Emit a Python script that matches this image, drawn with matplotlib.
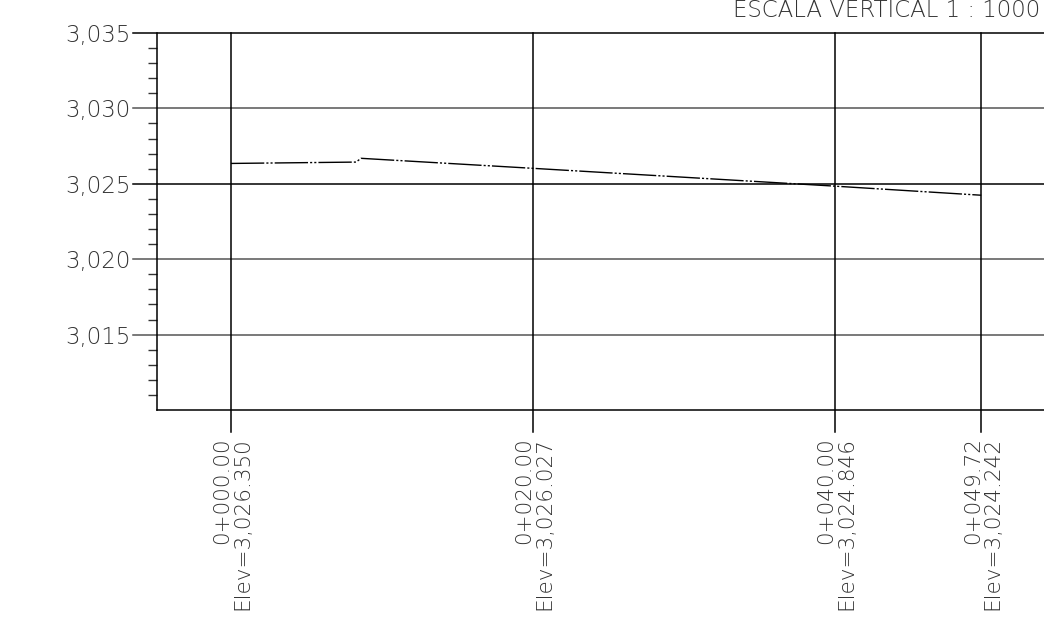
import matplotlib
matplotlib.use("Agg")
import matplotlib.pyplot as plt
from matplotlib.ticker import MultipleLocator, FuncFormatter

# profile data (station in m, elevation in m)
stations = [0.0, 8.29, 8.62, 20.0, 40.0, 49.72]
elevations = [3026.350, 3026.44, 3026.69, 3026.027, 3024.846, 3024.242]

# labelled stations along the bottom
label_stations = [0.0, 20.0, 40.0, 49.72]
label_names = ["0+000.00", "0+020.00", "0+040.00", "0+049.72"]
label_elevs = ["3,026.350", "3,026.027", "3,024.846", "3,024.242"]

y_major = [3015, 3020, 3025, 3030, 3035]
title = "ESCALA VERTICAL 1 : 1000"

txt = dict(color="#333333", fontweight="light")

W, H = 1044, 625
fig = plt.figure(figsize=(W / 100, H / 100), dpi=100)
ax = fig.add_axes([157 / W, (H - 410) / H, (W - 157) / W, 377 / H])

x_min, x_max = -4.90, 53.88
y_min, y_max = 3010, 3035
ax.set_xlim(x_min, x_max)
ax.set_ylim(y_min, y_max)

for side in ["top", "right"]:
    ax.spines[side].set_visible(False)
ax.spines["left"].set_linewidth(1.1)
ax.spines["bottom"].set_linewidth(1.1)

ax.set_xticks([])
ax.yaxis.set_major_locator(MultipleLocator(5))
ax.yaxis.set_minor_locator(MultipleLocator(1))
ax.yaxis.set_major_formatter(FuncFormatter(lambda v, p: f"{v:,.0f}" if v in y_major else ""))
ax.tick_params(axis="y", which="major", length=0, pad=19, labelsize=16.5, labelcolor="#333333")
ax.tick_params(axis="y", which="minor", length=6.5, width=1.0, direction="out", color="#333333")
for lab in ax.get_yticklabels():
    lab.set_fontweight("light")

# horizontal grid lines, sticking out past the axis on the left
grid_left = -6.5
for yv in y_major:
    c = "black" if yv in (3025, 3035) else "#555555"
    ax.plot([grid_left, x_max], [yv, yv], color=c, lw=1.1, clip_on=False, zorder=1)

# vertical station lines, extending below the frame
for s in label_stations:
    ax.plot([s, s], [3008.55, y_max], color="black", lw=1.1, clip_on=False, zorder=1)

# profile
ax.plot(stations, elevations, color="black", lw=1.0,
        linestyle=(0, (24, 1.5, 1.5, 1.5, 1.5, 1.5)), zorder=3)

# station labels
for s, name, ev in zip(label_stations, label_names, label_elevs):
    ax.text(s + 0.1, 3008.2, f"{name}\nElev={ev}", rotation=90, ha="center", va="top",
            multialignment="right", fontsize=15.5, linespacing=0.98, clip_on=False, **txt)

fig.text(1040 / W, 1 - 17 / H, title, ha="right", va="baseline", fontsize=16.5, **txt)

fig.savefig("out.png", dpi=100)
